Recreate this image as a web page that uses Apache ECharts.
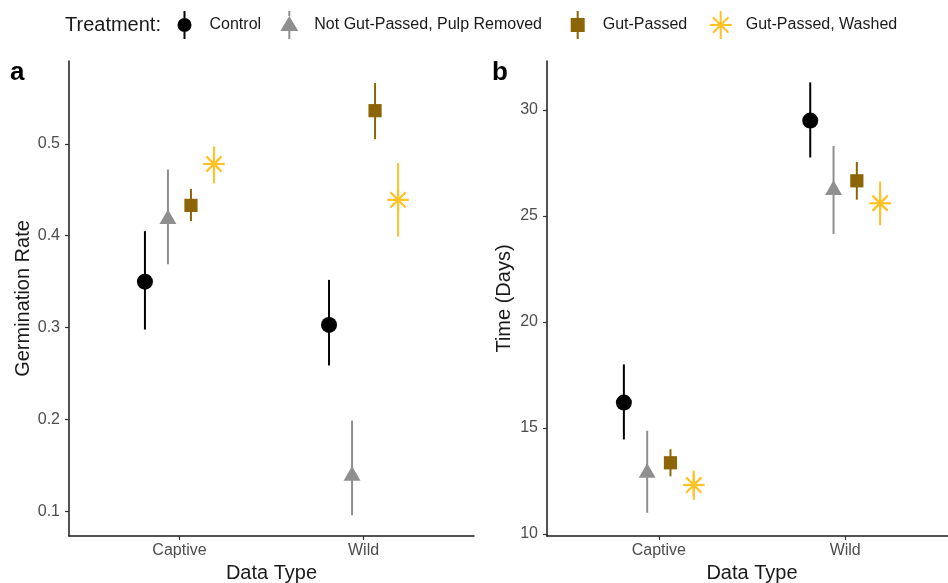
<!DOCTYPE html>
<html>
<head>
<meta charset="utf-8">
<script src="https://cdn.jsdelivr.net/npm/echarts@6/dist/echarts.min.js"></script>
<style>
html,body{margin:0;padding:0;background:#fff;}
#chart{width:948px;height:583px;}
</style>
</head>
<body>
<div id="chart"></div>
<script>
// ---------- data ----------
const categories = ['Captive', 'Wild'];
const treatments = ['Control', 'Not Gut-Passed, Pulp Removed', 'Gut-Passed', 'Gut-Passed, Washed'];
const treatmentColors = ['#000000', '#8F8F8F', '#8B6508', '#FFC125'];
const treatmentShapes = ['circle', 'triangle', 'square', 'asterisk'];

// [mean, lower, upper] for Captive, Wild
const germControl = [[0.350, 0.298, 0.405], [0.303, 0.259, 0.352]];
const germPulp    = [[0.418, 0.369, 0.472], [0.139, 0.096, 0.199]];
const germGut     = [[0.433, 0.416, 0.451], [0.536, 0.505, 0.566]];
const germWashed  = [[0.478, 0.457, 0.497], [0.439, 0.399, 0.479]];

const timeControl = [[16.20, 14.46, 18.00], [29.50, 27.76, 31.30]];
const timePulp    = [[12.88, 11.00, 14.87], [26.22, 24.15, 28.30]];
const timeGut     = [[13.36, 12.72, 14.00], [26.66, 25.77, 27.55]];
const timeWashed  = [[12.31, 11.61, 12.99], [25.60, 24.56, 26.63]];

const germTicks = [0.1, 0.2, 0.3, 0.4, 0.5];
const timeTicks = [10, 15, 20, 25, 30];

// ---------- helpers ----------
const FONT = 'Liberation Sans, Arial, Helvetica, sans-serif';
const dodgeWidth = 0.5;
function dodge(t) { return (t - (treatments.length - 1) / 2) * dodgeWidth / treatments.length; }

function buildData(arr, t) {
  return arr.map((v, i) => [i + 1 + dodge(t), v[0], v[1], v[2]]);
}

function makeRender(shape, color) {
  return function (params, api) {
    const x = api.value(0);
    const p = api.coord([x, api.value(1)]);
    const pl = api.coord([x, api.value(2)]);
    const ph = api.coord([x, api.value(3)]);
    const children = [{
      type: 'line',
      shape: { x1: p[0], y1: pl[1], x2: p[0], y2: ph[1] },
      style: { stroke: color, lineWidth: 2 }
    }];
    if (shape === 'circle') {
      children.push({ type: 'circle', shape: { cx: p[0], cy: p[1], r: 8 }, style: { fill: color } });
    } else if (shape === 'triangle') {
      const r = 9.8;
      children.push({ type: 'polygon', shape: { points: [[p[0], p[1] - r], [p[0] + 0.866 * r, p[1] + r / 2], [p[0] - 0.866 * r, p[1] + r / 2]] }, style: { fill: color } });
    } else if (shape === 'square') {
      const h = 6.6;
      children.push({ type: 'rect', shape: { x: p[0] - h, y: p[1] - h, width: 2 * h, height: 2 * h }, style: { fill: color } });
    } else {
      const r = 10.8, d = r / Math.SQRT2;
      const segs = [[0, -r, 0, r], [-r, 0, r, 0], [-d, -d, d, d], [-d, d, d, -d]];
      segs.forEach(s => children.push({
        type: 'line',
        shape: { x1: p[0] + s[0], y1: p[1] + s[1], x2: p[0] + s[2], y2: p[1] + s[3] },
        style: { stroke: color, lineWidth: 2.2 }
      }));
    }
    return { type: 'group', children: children };
  };
}

const legendIcons = [
  'path://M6 0L8 0L8 7L6 7Z M0 14A7 7 0 1 1 14 14A7 7 0 1 1 0 14Z M6 21L8 21L8 28L6 28Z',
  'path://M8 0L10 0L10 5L8 5Z M9 5L18 20L0 20Z M8 20L10 20L10 28L8 28Z',
  'path://M6 0L8 0L8 7L6 7Z M0 7L14 7L14 21L0 21Z M6 21L8 21L8 28L6 28Z',
  'path://M10 0L12 0L12 28L10 28Z M0 13L22 13L22 15L0 15Z M3.93 5.51L19.49 21.07L18.07 22.49L2.51 6.93Z M19.49 6.93L3.93 22.49L2.51 21.07L18.07 5.51Z'
];
const legendIconWidths = [14, 18, 14, 22];
const legendCenters = [184.5, 289.3, 577.7, 720.7];

const germSets = [germControl, germPulp, germGut, germWashed];
const timeSets = [timeControl, timePulp, timeGut, timeWashed];

const series = [];
[germSets, timeSets].forEach((sets, gi) => {
  sets.forEach((arr, t) => {
    series.push({
      type: 'custom',
      name: treatments[t],
      xAxisIndex: gi,
      yAxisIndex: gi,
      itemStyle: { color: treatmentColors[t] },
      encode: { x: 0, y: [1, 2, 3] },
      renderItem: makeRender(treatmentShapes[t], treatmentColors[t]),
      data: buildData(arr, t),
      silent: true
    });
  });
});

function xAxisCfg(gi) {
  return {
    type: 'value', gridIndex: gi, min: 0.4, max: 2.6,
    name: 'Data Type', nameLocation: 'middle', nameGap: 25,
    nameTextStyle: { fontFamily: FONT, fontSize: 20, color: '#1a1a1a' },
    splitLine: { show: false },
    axisLine: { show: true, lineStyle: { color: '#1a1a1a', width: 1.5 } },
    axisTick: { show: true, length: 4, customValues: [1, 2], lineStyle: { color: '#333', width: 1.2 } },
    axisLabel: {
      customValues: [1, 2], margin: 7,
      formatter: v => categories[Math.round(v) - 1] || '',
      fontFamily: FONT, fontSize: 16, color: '#4D4D4D'
    }
  };
}
function yAxisCfg(gi, name, min, max, ticks, gap) {
  return {
    type: 'value', gridIndex: gi, min: min, max: max,
    name: name, nameLocation: 'middle', nameGap: gap, nameRotate: 90,
    nameTextStyle: { fontFamily: FONT, fontSize: 20, color: '#1a1a1a' },
    splitLine: { show: false },
    axisLine: { show: true, lineStyle: { color: '#1a1a1a', width: 1.5 } },
    axisTick: { show: true, length: 4, customValues: ticks, lineStyle: { color: '#333', width: 1.2 } },
    axisLabel: { customValues: ticks, margin: 9, fontFamily: FONT, fontSize: 16, color: '#4D4D4D' }
  };
}

const option = {
  animation: false,
  backgroundColor: '#ffffff',
  grid: [
    { left: 69, top: 61, width: 405, height: 475, outerBoundsMode: 'none', containLabel: false },
    { left: 547, top: 61, width: 410, height: 475, outerBoundsMode: 'none', containLabel: false }
  ],
  xAxis: [xAxisCfg(0), xAxisCfg(1)],
  yAxis: [
    yAxisCfg(0, 'Germination Rate', 0.0735, 0.590, germTicks, 36),
    yAxisCfg(1, 'Time (Days)', 9.906, 32.31, timeTicks, 33)
  ],
  legend: treatments.map((name, t) => ({
    data: [{ name: name, icon: legendIcons[t] }],
    left: legendCenters[t] - legendIconWidths[t] / 2, top: 11,
    itemWidth: 40, itemHeight: 28, itemGap: 0, padding: 0,
    selectedMode: false,
    itemStyle: { borderWidth: 0 },
    textStyle: { fontFamily: FONT, fontSize: 16, color: '#1a1a1a' }
  })),
  graphic: [
    { type: 'text', left: 65, top: 15, style: { text: 'Treatment:', fontFamily: FONT, fontSize: 20, fill: '#1a1a1a' } },
    { type: 'text', left: 10, top: 60, style: { text: 'a', fontFamily: FONT, fontSize: 26, fontWeight: 'bold', fill: '#000' } },
    { type: 'text', left: 492, top: 60, style: { text: 'b', fontFamily: FONT, fontSize: 26, fontWeight: 'bold', fill: '#000' } }
  ],
  series: series
};

const chart = echarts.init(document.getElementById('chart'), null, { renderer: 'canvas' });
chart.setOption(option);
</script>
</body>
</html>
